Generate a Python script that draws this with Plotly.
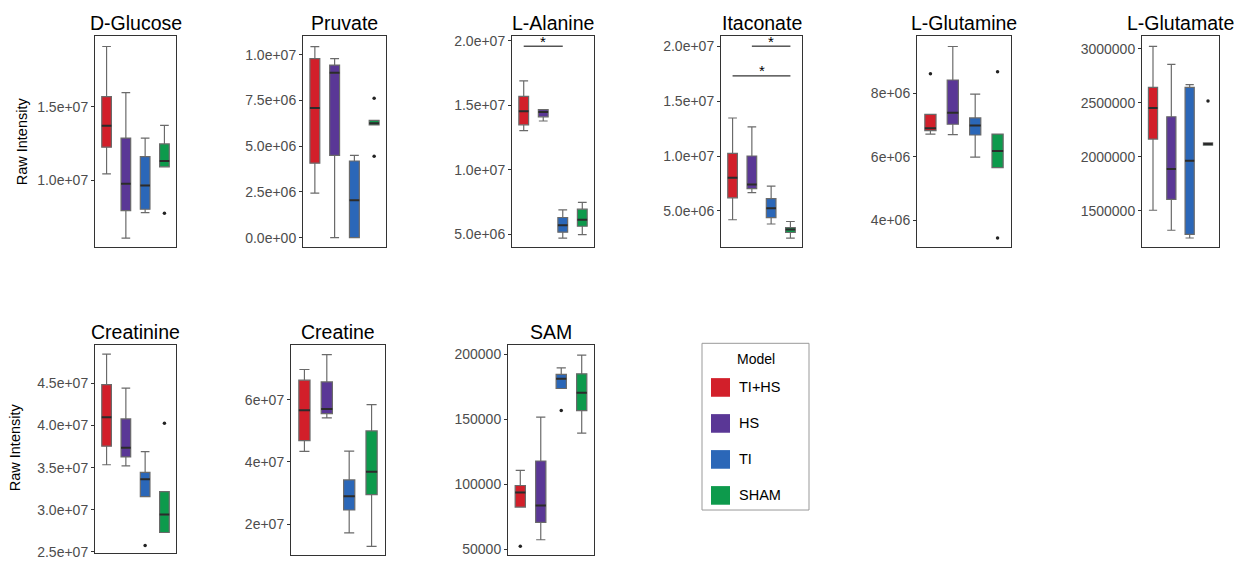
import plotly.graph_objects as go

W, H = 1241, 569
groups = ["TI+HS", "HS", "TI", "SHAM"]
colors = ["#D21F2A", "#5A3796", "#2B67B8", "#0D9A4C"]
legend_title = "Model"

# per panel: [lower whisker, q1, median, q3, upper whisker] for each group
glucose = [[1.045e7, 1.227e7, 1.373e7, 1.571e7, 1.911e7],
           [6.09e6, 7.95e6, 9.78e6, 1.289e7, 1.598e7],
           [7.82e6, 8.05e6, 9.67e6, 1.162e7, 1.289e7],
           [1.093e7, 1.093e7, 1.133e7, 1.249e7, 1.375e7]]
glucose_out = [[], [], [], [7.78e6]]

pyruvate = [[2.44e6, 4.07e6, 7.09e6, 9.78e6, 1.044e7],
            [0, 4.50e6, 9.01e6, 9.43e6, 9.78e6],
            [0, 0, 2.05e6, 4.19e6, 4.50e6],
            [6.16e6, 6.16e6, 6.25e6, 6.41e6, 6.41e6]]
pyruvate_out = [[], [], [], [7.62e6, 4.45e6]]

alanine = [[1.304e7, 1.348e7, 1.454e7, 1.568e7, 1.689e7],
           [1.378e7, 1.410e7, 1.448e7, 1.466e7, 1.466e7],
           [4.72e6, 5.17e6, 5.71e6, 6.31e6, 6.90e6],
           [4.98e6, 5.63e6, 6.14e6, 6.95e6, 7.48e6]]
alanine_out = [[], [], [], []]

itaconate = [[4.20e6, 6.19e6, 8.01e6, 1.024e7, 1.346e7],
             [6.67e6, 7.03e6, 7.41e6, 1.0e7, 1.265e7],
             [3.81e6, 4.40e6, 5.24e6, 6.13e6, 7.26e6],
             [2.53e6, 3.04e6, 3.30e6, 3.48e6, 4.04e6]]
itaconate_out = [[], [], [], []]

glutamine = [[6.72e6, 6.83e6, 6.90e6, 7.34e6, 7.34e6],
             [6.70e6, 7.03e6, 7.39e6, 8.43e6, 9.49e6],
             [5.99e6, 6.69e6, 6.99e6, 7.23e6, 7.98e6],
             [5.66e6, 5.66e6, 6.18e6, 6.72e6, 6.72e6]]
glutamine_out = [[8.63e6], [], [], [8.69e6, 3.43e6]]

glutamate = [[1.506e6, 2.165e6, 2.453e6, 2.643e6, 3.022e6],
             [1.321e6, 1.606e6, 1.887e6, 2.371e6, 2.855e6],
             [1.249e6, 1.282e6, 1.963e6, 2.643e6, 2.668e6],
             [2.108e6, 2.108e6, 2.12e6, 2.129e6, 2.129e6]]
glutamate_out = [[], [], [], [2.516e6]]

creatinine = [[3.534e7, 3.755e7, 4.097e7, 4.486e7, 4.847e7],
              [3.522e7, 3.627e7, 3.735e7, 4.078e7, 4.443e7],
              [3.157e7, 3.157e7, 3.362e7, 3.444e7, 3.689e7],
              [2.730e7, 2.730e7, 2.943e7, 3.216e7, 3.216e7]]
creatinine_out = [[], [], [2.575e7], [4.027e7]]

creatine = [[4.338e7, 4.686e7, 5.665e7, 6.635e7, 6.98e7],
            [5.42e7, 5.56e7, 5.706e7, 6.58e7, 7.457e7],
            [1.716e7, 2.452e7, 2.894e7, 3.422e7, 4.348e7],
            [1.283e7, 2.948e7, 3.684e7, 5.0e7, 5.845e7]]
creatine_out = [[], [], [], []]

sam = [[8.26e4, 8.26e4, 9.39e4, 9.92e4, 1.108e5],
       [5.75e4, 7.09e4, 8.39e4, 1.18e5, 1.517e5],
       [1.737e5, 1.737e5, 1.812e5, 1.846e5, 1.895e5],
       [1.394e5, 1.567e5, 1.705e5, 1.85e5, 1.993e5]]
sam_out = [[5.25e4], [], [1.567e5], []]

titles = ["D-Glucose", "Pruvate", "L-Alanine", "Itaconate", "L-Glutamine",
          "L-Glutamate", "Creatinine", "Creatine", "SAM"]

tick_glucose = [1.0e7, 1.5e7]
lab_glucose = ["1.0e+07", "1.5e+07"]
tick_pyruvate = [0, 2.5e6, 5.0e6, 7.5e6, 1.0e7]
lab_pyruvate = ["0.0e+00", "2.5e+06", "5.0e+06", "7.5e+06", "1.0e+07"]
tick_alanine = [5e6, 1e7, 1.5e7, 2e7]
lab_alanine = ["5.0e+06", "1.0e+07", "1.5e+07", "2.0e+07"]
tick_itaconate = [5e6, 1e7, 1.5e7, 2e7]
lab_itaconate = ["5.0e+06", "1.0e+07", "1.5e+07", "2.0e+07"]
tick_glutamine = [4e6, 6e6, 8e6]
lab_glutamine = ["4e+06", "6e+06", "8e+06"]
tick_glutamate = [1500000, 2000000, 2500000, 3000000]
lab_glutamate = ["1500000", "2000000", "2500000", "3000000"]
tick_creatinine = [2.5e7, 3.0e7, 3.5e7, 4.0e7, 4.5e7]
lab_creatinine = ["2.5e+07", "3.0e+07", "3.5e+07", "4.0e+07", "4.5e+07"]
tick_creatine = [2e7, 4e7, 6e7]
lab_creatine = ["2e+07", "4e+07", "6e+07"]
tick_sam = [50000, 100000, 150000, 200000]
lab_sam = ["50000", "100000", "150000", "200000"]

# significance brackets: (from group, to group, y)
sig_alanine = [(0, 2, 1.957e7)]
sig_itaconate = [(1, 3, 2.0e7), (0, 3, 1.729e7)]

panels = [
    (glucose, glucose_out, tick_glucose, lab_glucose, (95, 176, 33, 248), (5.47e6, 1.98e7)),
    (pyruvate, pyruvate_out, tick_pyruvate, lab_pyruvate, (303, 386, 33, 248), (-5.2e5, 1.1e7)),
    (alanine, alanine_out, tick_alanine, lab_alanine, (512, 594, 33, 248), (4.01e6, 2.033e7)),
    (itaconate, itaconate_out, tick_itaconate, lab_itaconate, (721, 802, 33, 248), (1.70e6, 2.089e7)),
    (glutamine, glutamine_out, tick_glutamine, lab_glutamine, (917, 1011, 33, 248), (3.14e6, 9.81e6)),
    (glutamate, glutamate_out, tick_glutamate, lab_glutamate, (1142, 1219, 33, 248), (1.164e6, 3.115e6)),
    (creatinine, creatinine_out, tick_creatinine, lab_creatinine, (95, 176, 348, 560), (2.485e7, 4.952e7)),
    (creatine, creatine_out, tick_creatine, lab_creatine, (291, 385, 348, 562), (9.98e6, 7.76e7)),
    (sam, sam_out, tick_sam, lab_sam, (508, 594, 348, 562), (4.57e4, 2.069e5)),
]

FONT = "Liberation Sans, Arial, sans-serif"
BOX_W = 0.5
fig = go.Figure()
layout = dict(width=W, height=H, margin=dict(l=0, r=0, t=0, b=0),
              paper_bgcolor="white", plot_bgcolor="white",
              font=dict(family=FONT), boxmode="overlay", showlegend=False)
annotations = []
shapes = []

for i, (stats, outs, tv, tt, box, yr) in enumerate(panels):
    n = i + 1
    xa = "x" if n == 1 else f"x{n}"
    ya = "y" if n == 1 else f"y{n}"
    x0, x1, y0, y1 = box
    layout["xaxis" if n == 1 else f"xaxis{n}"] = dict(
        domain=[x0 / W, x1 / W], anchor=ya, type="category",
        categoryarray=groups, categoryorder="array", range=[-0.6, 3.6],
        showticklabels=False, ticks="", showgrid=False, zeroline=False,
        showline=True, mirror=True, linecolor="#333333", linewidth=1)
    layout["yaxis" if n == 1 else f"yaxis{n}"] = dict(
        domain=[1 - y1 / H, 1 - y0 / H], anchor=xa, range=list(yr),
        tickvals=tv, ticktext=tt, ticks="outside", ticklen=3, tickcolor="#333333",
        tickfont=dict(size=14, color="#4d4d4d", family=FONT),
        showgrid=False, zeroline=False,
        showline=True, mirror=True, linecolor="#333333", linewidth=1)
    for g, (s, o) in enumerate(zip(stats, outs)):
        lo, q1, med, q3, hi = s
        fig.add_trace(go.Box(
            x=[groups[g]], lowerfence=[lo], q1=[q1], median=[med], q3=[q3],
            upperfence=[hi], xaxis=xa, yaxis=ya, width=BOX_W, whiskerwidth=0.9,
            fillcolor=colors[g], line=dict(color="#6a6a6a", width=1.2),
            boxpoints=False, showlegend=False, hoverinfo="skip", name=groups[g]))
        # darker, thicker median line like ggplot
        shapes.append(dict(type="line", xref=xa, yref=ya,
                           x0=g - BOX_W / 2, x1=g + BOX_W / 2, y0=med, y1=med,
                           line=dict(color="#2b2b2b", width=2)))
        if o:
            fig.add_trace(go.Scatter(
                x=[groups[g]] * len(o), y=o, mode="markers", xaxis=xa, yaxis=ya,
                marker=dict(size=3.5, color="#222222"), showlegend=False,
                hoverinfo="skip"))
    annotations.append(dict(text=titles[i], x=(x0 + x1) / 2 / W, y=1 - (y0 - 14) / H,
                            xref="paper", yref="paper", showarrow=False,
                            xanchor="center", yanchor="middle", height=22,
                            font=dict(size=19.5, color="black", family=FONT)))


def add_sig(panel_n, sigs):
    xr = "x" if panel_n == 1 else f"x{panel_n}"
    yr_ = "y" if panel_n == 1 else f"y{panel_n}"
    for a, b, yv in sigs:
        shapes.append(dict(type="line", xref=xr, yref=yr_, x0=a, x1=b, y0=yv, y1=yv,
                           line=dict(color="black", width=1)))
        annotations.append(dict(text="*", x=(a + b) / 2, y=yv, xref=xr, yref=yr_,
                                showarrow=False, xanchor="center", yanchor="middle",
                                yshift=5.5, height=10, borderpad=0,
                                font=dict(size=15, color="black", family=FONT)))


add_sig(3, sig_alanine)
add_sig(4, sig_itaconate)

annotations.append(dict(text="Raw Intensity", x=22 / W, y=1 - 140 / H, xref="paper", yref="paper",
                        showarrow=False, textangle=-90, xanchor="center", yanchor="middle",
                        font=dict(size=14.5, color="black", family=FONT)))
annotations.append(dict(text="Raw Intensity", x=15 / W, y=1 - 452 / H, xref="paper", yref="paper",
                        showarrow=False, textangle=-90, xanchor="center", yanchor="middle",
                        font=dict(size=14.5, color="black", family=FONT)))

# legend (drawn as a framed key in paper coordinates)
LX0, LX1, LY0, LY1 = 702, 809, 346, 516
shapes.append(dict(type="rect", xref="paper", yref="paper",
                   x0=LX0 / W, x1=LX1 / W, y0=1 - LY1 / H, y1=1 - LY0 / H,
                   line=dict(color="#999999", width=1), fillcolor="white", layer="below"))
annotations.append(dict(text=legend_title, x=(LX0 + LX1) / 2 / W, y=1 - 362 / H,
                        xref="paper", yref="paper", showarrow=False,
                        xanchor="center", yanchor="middle",
                        font=dict(size=14, color="black", family=FONT)))
for g, name in enumerate(groups):
    yc = 391 + g * 36.7
    shapes.append(dict(type="rect", xref="paper", yref="paper",
                       x0=711 / W, x1=730 / W, y0=1 - (yc + 9.5) / H, y1=1 - (yc - 9.5) / H,
                       line=dict(width=0), fillcolor=colors[g]))
    annotations.append(dict(text=name, x=737 / W, y=1 - yc / H, xref="paper", yref="paper",
                            showarrow=False, xanchor="left", yanchor="middle",
                            font=dict(size=14.5, color="black", family=FONT)))

layout["annotations"] = annotations
layout["shapes"] = shapes
fig.update_layout(**layout)
fig.write_html("out.html")
